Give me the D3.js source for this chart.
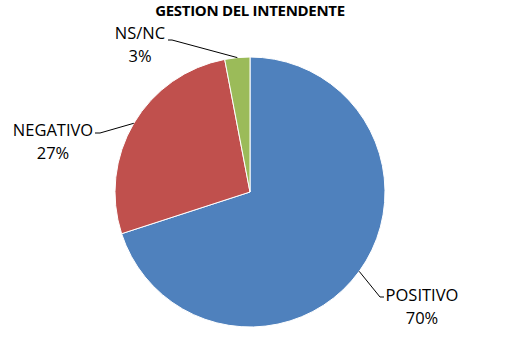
<!DOCTYPE html>
<html>
<head>
<meta charset="utf-8">
<script src="https://cdn.jsdelivr.net/npm/d3@7"></script>
<style>
  body { margin: 0; background: #fff; }
  text { font-family: "Open Sans", "Liberation Sans", sans-serif; fill: #000; }
</style>
</head>
<body>
<div id="vis"></div>
<script>
// Data
var categories = ["POSITIVO", "NEGATIVO", "NS/NC"];
var values = [70, 27, 3];
var colors = ["#4F81BD", "#C0504D", "#9BBB59"];

var width = 507;
var height = 363;
var center = { x: 250, y: 192 };
var radius = 135;

// label placement (text anchor point, elbow, end of leader at text)
var labelPos = [
  { x: 422, y: 301, elbow: [380, 297], tip: [384, 297] },
  { x: 53, y: 136, elbow: [100, 133], tip: [95, 133] },
  { x: 140, y: 39, elbow: [172, 40], tip: [168, 40] }
];

var svg = d3.select('#vis').append('svg')
  .attr('width', width)
  .attr('height', height);

svg.append('text')
  .attr('x', 250)
  .attr('y', 16)
  .attr('text-anchor', 'middle')
  .style('font-size', '15px')
  .style('font-weight', 'bold')
  .style('letter-spacing', '-0.3px')
  .text('GESTION DEL INTENDENTE');

var pie = d3.pie().sort(null).value(function (d) { return d; });
var arc = d3.arc().innerRadius(0).outerRadius(radius);
var arcs = pie(values);

var g = svg.append('g')
  .attr('transform', 'translate(' + center.x + ',' + center.y + ')');

g.selectAll('path')
  .data(arcs)
  .enter().append('path')
  .attr('d', arc)
  .attr('fill', function (d, i) { return colors[i]; })
  .attr('stroke', '#fff')
  .attr('stroke-width', 1);

// leader lines
arcs.forEach(function (d, i) {
  var mid = (d.startAngle + d.endAngle) / 2;
  var px = center.x + radius * Math.sin(mid);
  var py = center.y - radius * Math.cos(mid);
  var p = labelPos[i];
  svg.append('polyline')
    .attr('points', [[px, py], p.elbow, p.tip].map(function (q) { return q.join(','); }).join(' '))
    .attr('fill', 'none')
    .attr('stroke', '#000')
    .attr('stroke-width', 1);

  var t = svg.append('text')
    .attr('text-anchor', 'middle')
    .style('font-size', '16.5px');
  t.append('tspan').attr('x', p.x).attr('y', p.y).text(categories[i]);
  t.append('tspan').attr('x', p.x).attr('y', p.y + 23).text(values[i] + '%');
});
</script>
</body>
</html>
